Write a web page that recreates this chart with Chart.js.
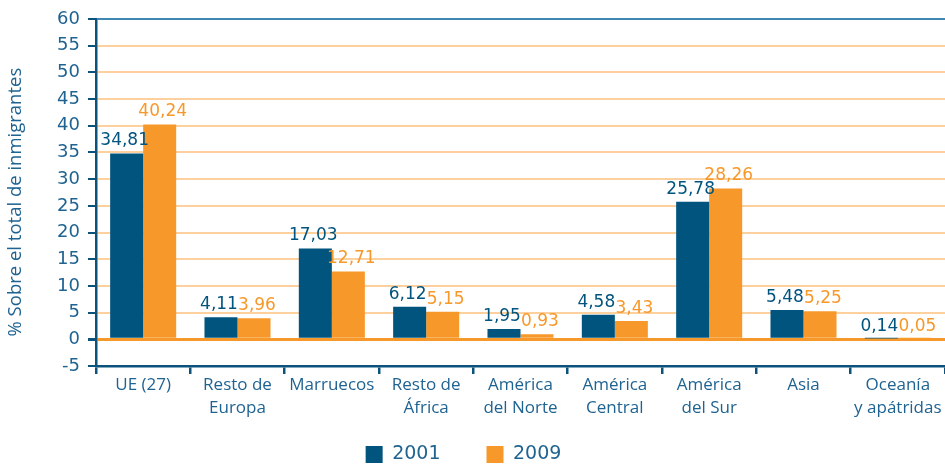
<!DOCTYPE html>
<html>
<head>
<meta charset="utf-8">
<script src="https://cdn.jsdelivr.net/npm/chart.js@4.4.0/dist/chart.umd.min.js"></script>
<style>
  html, body { margin: 0; padding: 0; background: #fff; }
  #wrap { width: 945px; height: 466px; position: relative; }
</style>
</head>
<body>
<div id="wrap"><canvas id="chart"></canvas></div>
<script>
var categories = [["UE (27)"], ["Resto de", "Europa"], ["Marruecos"], ["Resto de", "África"], ["América", "del Norte"], ["América", "Central"], ["América", "del Sur"], ["Asia"], ["Oceanía", "y apátridas"]];
var values2001 = [34.81, 4.11, 17.03, 6.12, 1.95, 4.58, 25.78, 5.48, 0.14];
var values2009 = [40.24, 3.96, 12.71, 5.15, 0.93, 3.43, 28.26, 5.25, 0.05];
var seriesNames = ["2001", "2009"];

var BLUE = "#00547e";
var ORANGE = "#f7982b";
var TEXT = "#1f6391";
var AXIS = "#0b527c";

// value labels above each bar, decimal comma
var valueLabels = {
    id: "valueLabels",
    afterDatasetsDraw: function (chart) {
        var ctx = chart.ctx;
        ctx.save();
        ctx.font = "17px 'DejaVu Sans'";
        ctx.textAlign = "center";
        ctx.textBaseline = "alphabetic";
        chart.data.datasets.forEach(function (ds, i) {
            var meta = chart.getDatasetMeta(i);
            ctx.fillStyle = ds.backgroundColor;
            meta.data.forEach(function (bar, j) {
                var txt = ds.data[j].toFixed(2).replace(".", ",");
                // the two labels of a pair are pushed slightly apart
                var dx = i === 0 ? -2 : 3;
                ctx.fillText(txt, bar.x + dx, bar.y - 8);
            });
        });
        ctx.restore();
    }
};

// legend sits lower than the layout puts it
var moveLegend = {
    id: "moveLegend",
    afterLayout: function (chart) {
        var lg = chart.legend;
        var dy = 399 - lg.top;
        lg.top += dy;
        lg.bottom += dy;
        lg.left -= 9;
        lg.right -= 9;
    }
};

var chart = document.getElementById("chart");

let myChart = new Chart(chart, {
    type: "bar",
    data: {
        labels: categories,
        datasets: [{
            label: seriesNames[0],
            backgroundColor: BLUE,
            data: values2001
        }, {
            label: seriesNames[1],
            backgroundColor: ORANGE,
            data: values2009
        }]
    },
    options: {
        responsive: true,
        maintainAspectRatio: false,
        animation: false,
        layout: { padding: { top: 19, right: 0, left: 0, bottom: -35 } },
        datasets: {
            bar: { categoryPercentage: 0.7, barPercentage: 1.0 }
        },
        plugins: {
            tooltip: { enabled: false },
            legend: {
                position: "bottom",
                labels: {
                    boxWidth: 17,
                    boxHeight: 17,
                    padding: 46,
                    color: TEXT,
                    font: { family: "'DejaVu Sans'", size: 19 }
                }
            }
        },
        scales: {
            x: {
                afterFit: function (scale) { scale.height = 60; },
                border: { color: AXIS, width: 2.5 },
                grid: {
                    offset: true,
                    drawOnChartArea: false,
                    color: AXIS,
                    lineWidth: 2.5,
                    tickLength: 8
                },
                ticks: {
                    color: TEXT,
                    padding: 0,
                    maxRotation: 0,
                    autoSkip: false,
                    font: { family: "'Open Sans'", size: 17, lineHeight: 1.35 }
                }
            },
            y: {
                min: -5,
                max: 60,
                afterFit: function (scale) { scale.width = 96; },
                border: { color: AXIS, width: 2.5 },
                grid: {
                    color: function (c) {
                        var v = c.tick.value;
                        if (v === 60) return "#3f88b3";
                        if (v === 0) return ORANGE;
                        if (v === -5) return "rgba(0,0,0,0)";
                        return "#fdd09d";
                    },
                    lineWidth: function (c) {
                        return c.tick.value === 0 ? 3 : 2;
                    },
                    tickColor: AXIS,
                    tickLength: 8
                },
                ticks: {
                    stepSize: 5,
                    color: TEXT,
                    padding: 8,
                    font: { family: "'DejaVu Sans'", size: 18 }
                },
                title: {
                    display: true,
                    text: "% Sobre el total de inmigrantes    ",
                    color: TEXT,
                    padding: { top: 5, bottom: 0 },
                    font: { family: "'Open Sans'", size: 18.5 }
                }
            }
        }
    },
    plugins: [valueLabels, moveLegend]
});
</script>
</body>
</html>
